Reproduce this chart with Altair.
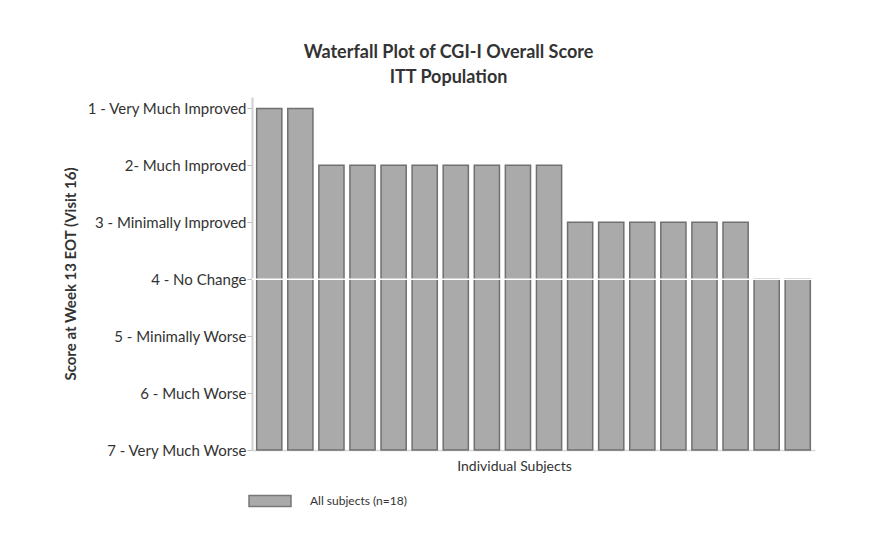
import altair as alt
import pandas as pd

subjects = [f"S{i:02d}" for i in range(1, 19)]
scores = [1, 1, 2, 2, 2, 2, 2, 2, 2, 2, 3, 3, 3, 3, 3, 3, 4, 4]
score_labels = [
    "1 - Very Much Improved",
    "2- Much Improved",
    "3 - Minimally Improved",
    "4 - No Change",
    "5 - Minimally Worse",
    "6 - Much Worse",
    "7 - Very Much Worse",
]
group_label = "All subjects (n=18)"

df = pd.DataFrame({"subject": subjects, "score": scores, "group": [group_label] * len(subjects)})

FONT = "Lato"
label_expr = "[" + ",".join(f"'{s}'" for s in score_labels) + "][datum.value - 1]"

yscale = alt.Scale(domain=[0.8, 7], reverse=True, nice=False, zero=False)

bars = alt.Chart(df).mark_bar(stroke="#707070", strokeWidth=1.5).encode(
    x=alt.X("subject:N", sort=subjects,
            scale=alt.Scale(paddingInner=0.19, paddingOuter=0.15),
            axis=alt.Axis(title="Individual Subjects", labels=False, ticks=False,
                          domainColor="#d8d8d8", domainWidth=1.5,
                          titleFontWeight="normal", titleFontSize=14, titleColor="#333333",
                          titlePadding=9, titleFont=FONT, titleX=262)),
    y=alt.Y("score:Q", scale=yscale,
            axis=alt.Axis(title="Score at Week 13 EOT (Visit 16)", values=[1, 2, 3, 4, 5, 6, 7],
                          labelExpr=label_expr, grid=False, labelFontSize=15,
                          labelColor="#333333", labelFont=FONT, tickColor="#bbbbbb",
                          tickSize=5, domainColor="#d0d0d0", domainWidth=2,
                          titleFontSize=15, titleFont=FONT, titleColor="#333333",
                          titleFontWeight="bold", titlePadding=8, labelPadding=1)),
    y2=alt.datum(7),
    color=alt.Color("group:N", scale=alt.Scale(range=["#aaaaaa"]),
                    legend=alt.Legend(title=None, orient="none", legendX=-4, legendY=382,
                                      symbolType="M-1,-0.26L1,-0.26L1,0.26L-1,0.26Z",
                                      symbolSize=1764, symbolStrokeColor="#777777",
                                      symbolStrokeWidth=1.5, symbolFillColor="#aaaaaa",
                                      labelFont=FONT, labelFontSize=12, labelColor="#333333",
                                      labelOffset=18, padding=0)),
)

no_change = alt.Chart(pd.DataFrame({"v": [4]})).mark_rule(color="white", strokeWidth=1.5).encode(
    y=alt.Y("v:Q", scale=yscale)
)

chart = alt.layer(bars, no_change).properties(
    width=563,
    height=353,
    autosize=alt.AutoSizeParams(type="none"),
    padding={"left": 244, "top": 89, "right": 56, "bottom": 79},
    title=alt.Title(
        ["Waterfall Plot of CGI-I Overall Score", "ITT Population"],
        font=FONT, fontSize=18, fontWeight="bold", color="#333333",
        lineHeight=25, anchor="middle", dx=-85, offset=10,
    ),
    background="white",
).configure_view(stroke=None)

chart.save("out.html", embed_options={"renderer": "svg", "actions": False})
